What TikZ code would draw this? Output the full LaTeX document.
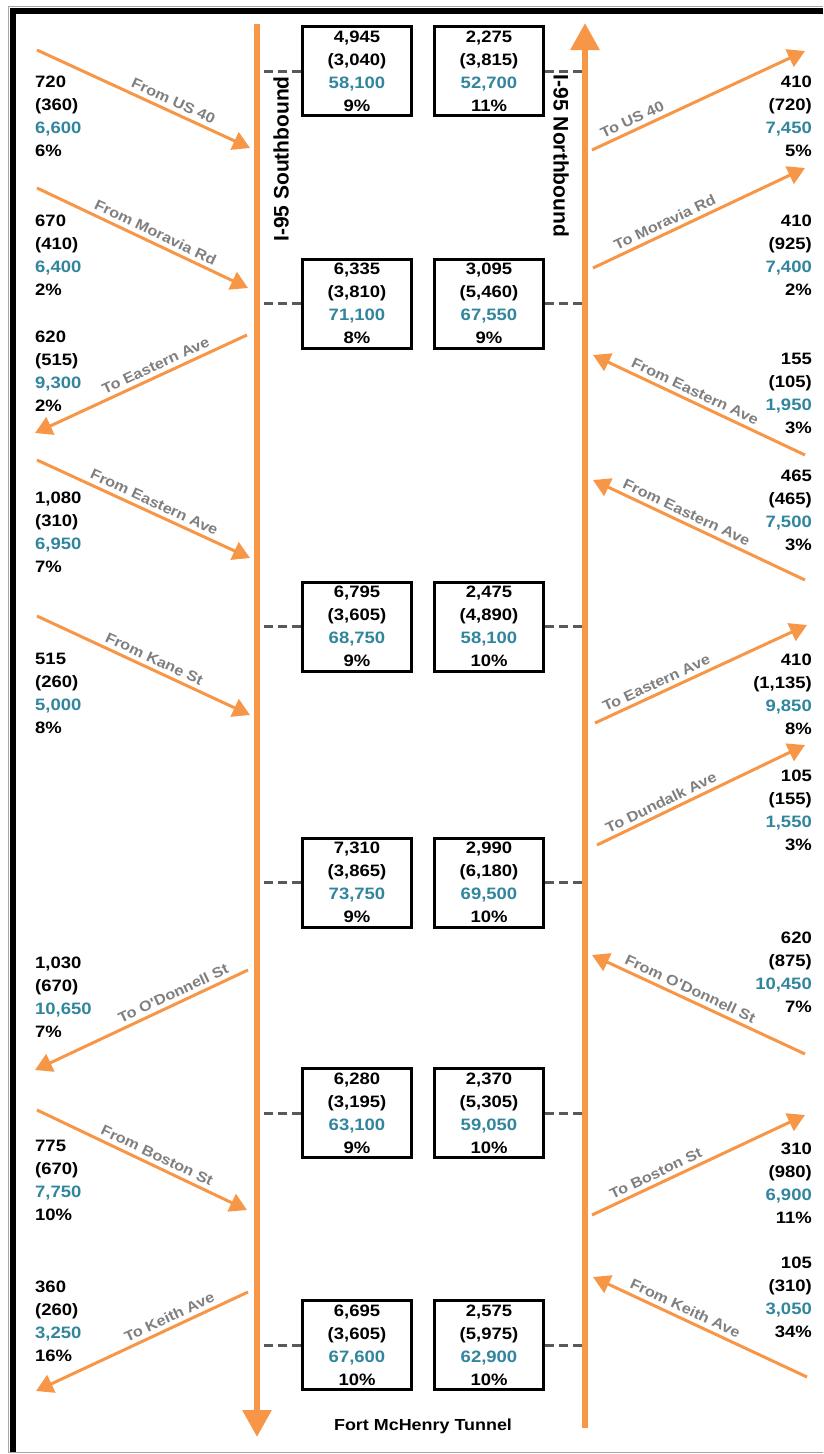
\documentclass[tikz,border=0pt]{standalone}
\usepackage{fontspec}
\setmainfont{Liberation Sans}
\newfontfamily\widefont{Liberation Sans}[FakeStretch=1.12]
\usetikzlibrary{arrows.meta}
\definecolor{rampor}{HTML}{F79646}
\definecolor{aadtteal}{HTML}{31859C}
\definecolor{rampgray}{HTML}{7F7F7F}
\definecolor{tickgray}{HTML}{595959}
\newcommand{\aadt}[1]{\textcolor{aadtteal}{#1}}

\begin{document}
\begin{tikzpicture}[x=1pt, y=-1pt,
  mainline/.style={line width=6pt, draw=rampor, -{Triangle[length=27pt,width=28pt]}},
  rampfwd/.style={line width=3pt, draw=rampor, -{Triangle[length=17pt,width=19pt]}},
  rampback/.style={line width=3pt, draw=rampor, {Triangle[length=17pt,width=19pt]}-},
  rampname/.style={sloped, above=3pt, inner sep=1pt, text=rampgray,
    font=\widefont\fontsize{14.5}{17}\selectfont\bfseries},
  mainname/.style={inner sep=0pt, font=\fontsize{21}{24}\selectfont\bfseries},
  volbox/.style={draw, line width=3pt, minimum width=109pt, minimum height=89pt,
    align=center, inner sep=0pt, font=\widefont\fontsize{16.5}{23}\selectfont\bfseries},
  volsl/.style={anchor=base west, align=left, inner sep=0pt,
    font=\widefont\fontsize{16.5}{23}\selectfont\bfseries},
  volsr/.style={anchor=base east, align=right, inner sep=0pt,
    font=\widefont\fontsize{16.5}{23}\selectfont\bfseries},
  tick/.style={draw=tickgray, line width=3pt, dash pattern=on 9pt off 5pt}]
  \useasboundingbox (0,0) rectangle (823,1454);
  % frame
  \draw[gray!70, line width=1pt] (8,1453) -- (8,6) -- (823,6);
  \draw[gray!70, line width=1.3pt] (8,1452.5) -- (823,1452.5);
  \fill (10,8) rectangle (823,13.5);
  \fill (10,8) rectangle (16,1452);

  % mainline end points
  \coordinate (sbtop) at (257,24);
  \coordinate (sbend) at (257,1437);
  \coordinate (nbbot) at (585,1428);
  \coordinate (nbtop) at (585,23);

  % volume boxes between the two directions
  \node[volbox] (sb1) at (357,71)   {4,945\\(3,040)\\\aadt{58,100}\\9\%};
  \node[volbox] (nb1) at (489,71)   {2,275\\(3,815)\\\aadt{52,700}\\11\%};
  \node[volbox] (sb2) at (357,303.5) {6,335\\(3,810)\\\aadt{71,100}\\8\%};
  \node[volbox] (nb2) at (489,303.5) {3,095\\(5,460)\\\aadt{67,550}\\9\%};
  \node[volbox] (sb3) at (357,626.5) {6,795\\(3,605)\\\aadt{68,750}\\9\%};
  \node[volbox] (nb3) at (489,626.5) {2,475\\(4,890)\\\aadt{58,100}\\10\%};
  \node[volbox] (sb4) at (357,882.5) {7,310\\(3,865)\\\aadt{73,750}\\9\%};
  \node[volbox] (nb4) at (489,882.5) {2,990\\(6,180)\\\aadt{69,500}\\10\%};
  \node[volbox] (sb5) at (357,1113) {6,280\\(3,195)\\\aadt{63,100}\\9\%};
  \node[volbox] (nb5) at (489,1113) {2,370\\(5,305)\\\aadt{59,050}\\10\%};
  \node[volbox] (sb6) at (357,1345) {6,695\\(3,605)\\\aadt{67,600}\\10\%};
  \node[volbox] (nb6) at (489,1345) {2,575\\(5,975)\\\aadt{62,900}\\10\%};

  % dashed ticks to the mainlines
  \draw[tick] (sb1.west) -- (sb1.west -| sbtop);
  \draw[tick] (sb2.west) -- (sb2.west -| sbtop);
  \draw[tick] (sb3.west) -- (sb3.west -| sbtop);
  \draw[tick] (sb4.west) -- (sb4.west -| sbtop);
  \draw[tick] (sb5.west) -- (sb5.west -| sbtop);
  \draw[tick] (sb6.west) -- (sb6.west -| sbtop);
  \draw[tick] (nb1.east) -- (nb1.east -| nbtop);
  \draw[tick] (nb2.east) -- (nb2.east -| nbtop);
  \draw[tick] (nb3.east) -- (nb3.east -| nbtop);
  \draw[tick] (nb4.east) -- (nb4.east -| nbtop);
  \draw[tick] (nb5.east) -- (nb5.east -| nbtop);
  \draw[tick] (nb6.east) -- (nb6.east -| nbtop);

  % mainlines
  \draw[mainline] (sbtop) -- (sbend);
  \draw[mainline] (nbbot) -- (nbtop);
  \node[mainname, rotate=90]  (sbname) at (281,159) {I-95 Southbound};
  \node[mainname, rotate=-90] (nbname) at (561,156) {I-95 Northbound};
  \node[anchor=base, inner sep=0pt, font=\widefont\fontsize{16}{19}\selectfont\bfseries]
    (tunnel) at (423,1430) {Fort McHenry Tunnel};

  % southbound ramps (left side); volume stacks sit on their last baseline
  \coordinate (l1a) at (37,50);   \coordinate (l1b) at (250,148);
  \coordinate (l2a) at (37,188);  \coordinate (l2b) at (248,288);
  \coordinate (l3a) at (35,433);  \coordinate (l3b) at (247,335);
  \coordinate (l4a) at (37,460);  \coordinate (l4b) at (250,558);
  \coordinate (l5a) at (37,616);  \coordinate (l5b) at (250,715);
  \coordinate (l6a) at (35,1070); \coordinate (l6b) at (248,970);
  \coordinate (l7a) at (37,1110); \coordinate (l7b) at (247,1210);
  \coordinate (l8a) at (36,1391); \coordinate (l8b) at (248,1292);
  \draw[rampfwd]  (l1a) -- node[rampname, pos=.62] (l1name) {From US 40} (l1b);
  \draw[rampfwd]  (l2a) -- node[rampname, pos=.54] (l2name) {From Moravia Rd} (l2b);
  \draw[rampback] (l3a) -- node[rampname, pos=.59] (l3name) {To Eastern Ave} (l3b);
  \draw[rampfwd]  (l4a) -- node[rampname, pos=.53] (l4name) {From Eastern Ave} (l4b);
  \draw[rampfwd]  (l5a) -- node[rampname, pos=.53] (l5name) {From Kane St} (l5b);
  \draw[rampback] (l6a) -- node[rampname, pos=.67] (l6name) {To O'Donnell St} (l6b);
  \draw[rampfwd]  (l7a) -- node[rampname, pos=.55] (l7name) {From Boston St} (l7b);
  \draw[rampback] (l8a) -- node[rampname, pos=.65] (l8name) {To Keith Ave} (l8b);
  \node[volsl] (l1vol) at (35,156)  {720\\(360)\\\aadt{6,600}\\6\%};
  \node[volsl] (l2vol) at (35,295)  {670\\(410)\\\aadt{6,400}\\2\%};
  \node[volsl] (l3vol) at (35,411)  {620\\(515)\\\aadt{9,300}\\2\%};
  \node[volsl] (l4vol) at (35,572)  {1,080\\(310)\\\aadt{6,950}\\7\%};
  \node[volsl] (l5vol) at (35,733)  {515\\(260)\\\aadt{5,000}\\8\%};
  \node[volsl] (l6vol) at (35,1037) {1,030\\(670)\\\aadt{10,650}\\7\%};
  \node[volsl] (l7vol) at (35,1220) {775\\(670)\\\aadt{7,750}\\10\%};
  \node[volsl] (l8vol) at (35,1361) {360\\(260)\\\aadt{3,250}\\16\%};

  % northbound ramps (right side)
  \coordinate (r1a) at (592,150);  \coordinate (r1b) at (805,51);
  \coordinate (r2a) at (593,268);  \coordinate (r2b) at (805,168);
  \coordinate (r3a) at (593,355);  \coordinate (r3b) at (805,455);
  \coordinate (r4a) at (593,480);  \coordinate (r4b) at (805,580);
  \coordinate (r5a) at (595,723);  \coordinate (r5b) at (807,625);
  \coordinate (r6a) at (597,845);  \coordinate (r6b) at (805,745);
  \coordinate (r7a) at (592,955);  \coordinate (r7b) at (805,1054);
  \coordinate (r8a) at (592,1215); \coordinate (r8b) at (805,1115);
  \coordinate (r9a) at (593,1277); \coordinate (r9b) at (807,1377);
  \draw[rampfwd]  (r1a) -- node[rampname, pos=.21] (r1name) {To US 40} (r1b);
  \draw[rampfwd]  (r2a) -- node[rampname, pos=.36] (r2name) {To Moravia Rd} (r2b);
  \draw[rampback] (r3a) -- node[rampname, pos=.46] (r3name) {From Eastern Ave} (r3b);
  \draw[rampback] (r4a) -- node[rampname, pos=.42] (r4name) {From Eastern Ave} (r4b);
  \draw[rampfwd]  (r5a) -- node[rampname, pos=.31] (r5name) {To Eastern Ave} (r5b);
  \draw[rampfwd]  (r6a) -- node[rampname, pos=.33] (r6name) {To Dundalk Ave} (r6b);
  \draw[rampback] (r7a) -- node[rampname, pos=.44] (r7name) {From O'Donnell St} (r7b);
  \draw[rampfwd]  (r8a) -- node[rampname, pos=.32] (r8name) {To Boston St} (r8b);
  \draw[rampback] (r9a) -- node[rampname, pos=.41] (r9name) {From Keith Ave} (r9b);
  \node[volsr] (r1vol) at (812,156)  {410\\(720)\\\aadt{7,450}\\5\%};
  \node[volsr] (r2vol) at (812,295)  {410\\(925)\\\aadt{7,400}\\2\%};
  \node[volsr] (r3vol) at (812,433)  {155\\(105)\\\aadt{1,950}\\3\%};
  \node[volsr] (r4vol) at (812,550)  {465\\(465)\\\aadt{7,500}\\3\%};
  \node[volsr] (r5vol) at (812,734)  {410\\(1,135)\\\aadt{9,850}\\8\%};
  \node[volsr] (r6vol) at (812,850)  {105\\(155)\\\aadt{1,550}\\3\%};
  \node[volsr] (r7vol) at (812,1012) {620\\(875)\\\aadt{10,450}\\7\%};
  \node[volsr] (r8vol) at (812,1223) {310\\(980)\\\aadt{6,900}\\11\%};
  \node[volsr] (r9vol) at (812,1337) {105\\(310)\\\aadt{3,050}\\34\%};
\end{tikzpicture}
\end{document}
